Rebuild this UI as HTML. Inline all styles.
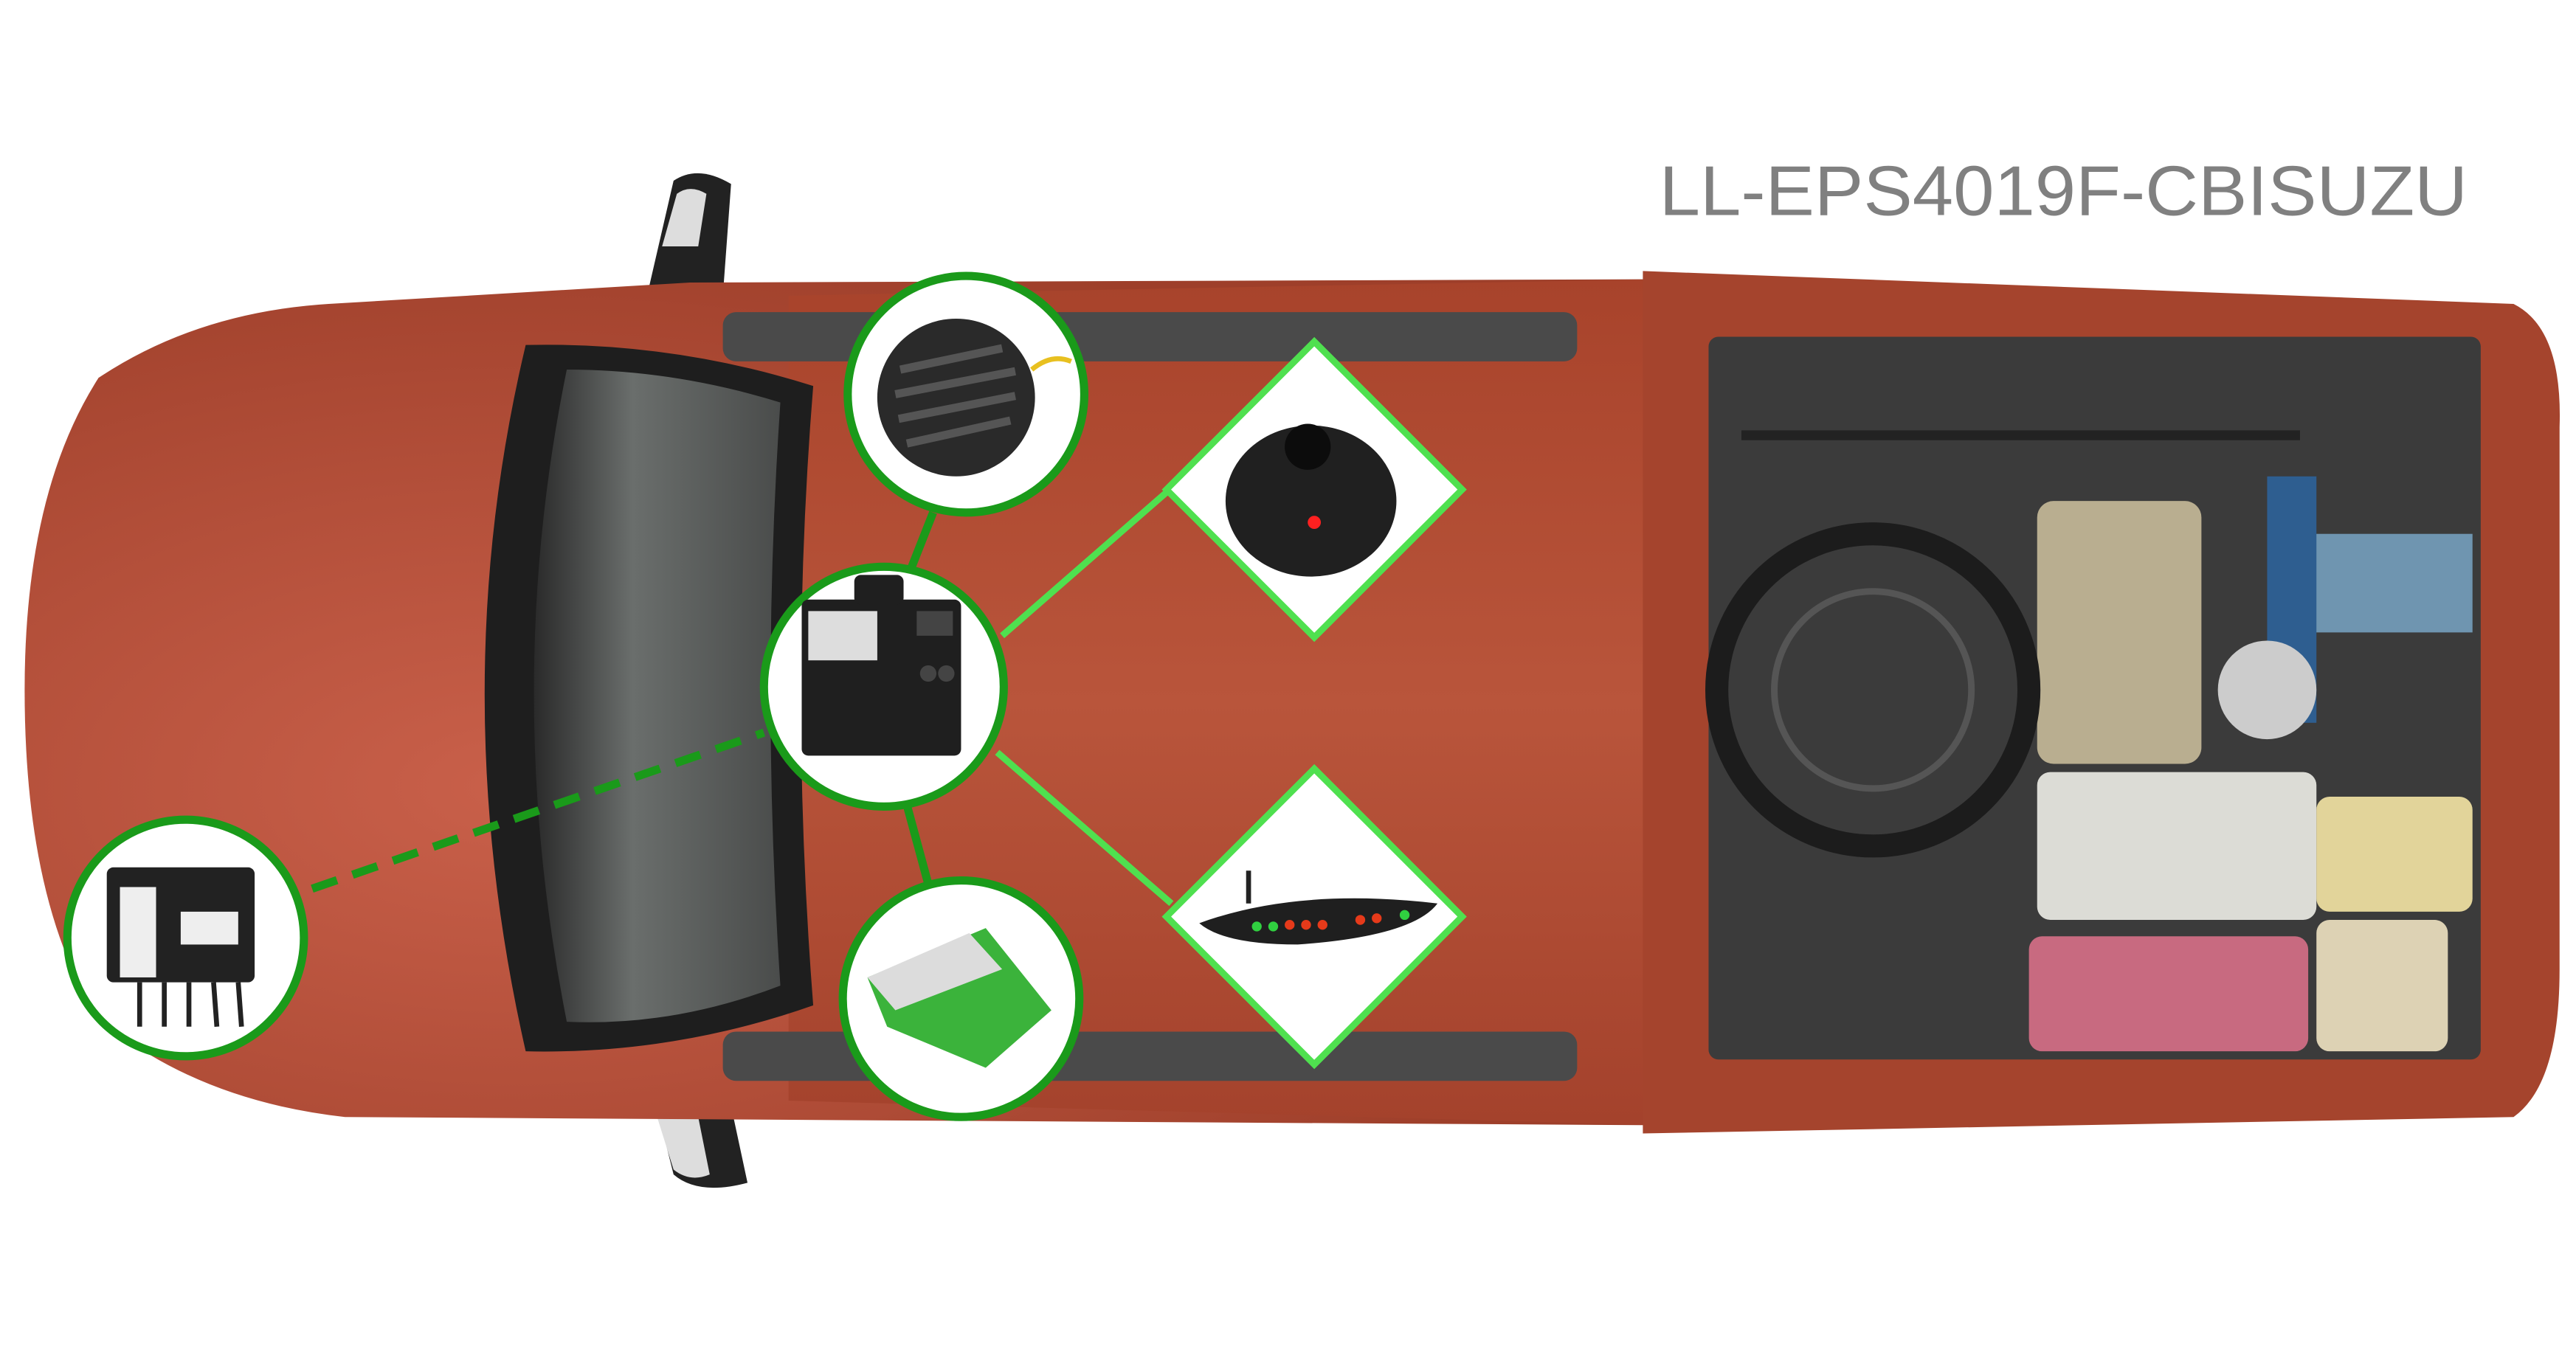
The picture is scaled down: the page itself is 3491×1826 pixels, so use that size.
<!DOCTYPE html>
<html><head><meta charset="utf-8"><style>html,body{margin:0;padding:0;background:#fff}svg{display:block}</style></head>
<body>
<svg width="3491" height="1826" viewBox="0 0 1568 820" preserveAspectRatio="none" xmlns="http://www.w3.org/2000/svg">
<defs>
<linearGradient id="body" x1="0" y1="0" x2="0" y2="1">
<stop offset="0" stop-color="#a8432b"/><stop offset="0.5" stop-color="#b9553b"/><stop offset="1" stop-color="#a4422c"/>
</linearGradient>
<radialGradient id="hood" cx="0.3" cy="0.6" r="0.7">
<stop offset="0" stop-color="#c9604a"/><stop offset="1" stop-color="#9e3f2a"/>
</radialGradient>
<linearGradient id="glass" x1="0" y1="0" x2="1" y2="0">
<stop offset="0" stop-color="#2a2a2a"/><stop offset="0.4" stop-color="#6a6e6c"/><stop offset="1" stop-color="#4a4c4b"/>
</linearGradient>
</defs>
<rect width="1568" height="820" fill="#fff"/>
<!-- mirrors -->
<path d="M395 175 L410 110 Q425 100 445 112 L440 180 Z" fill="#222"/>
<path d="M403 150 L412 118 Q420 112 430 118 L425 150Z" fill="#ddd"/>
<path d="M395 655 L410 715 Q425 728 455 720 L440 650 Z" fill="#222"/>
<path d="M400 680 L410 712 Q420 720 432 715 L425 680Z" fill="#ddd"/>
<!-- cab body -->
<path d="M200 185 Q120 190 60 230 Q15 300 15 420 Q15 550 60 620 Q120 670 210 680 L1010 685 L1010 170 L420 172 Z" fill="url(#hood)"/>
<path d="M480 180 L1010 170 L1010 685 L480 670 Z" fill="url(#body)"/>
<!-- bed -->
<path d="M1000 165 L1530 185 Q1560 200 1558 260 L1558 590 Q1558 660 1530 680 L1000 690 Z" fill="#a5442d"/>
<rect x="1040" y="205" width="470" height="440" rx="6" fill="#3b3b3b"/>
<rect x="1240" y="305" width="100" height="160" rx="10" fill="#b9ae90"/>
<rect x="1240" y="470" width="170" height="90" rx="8" fill="#dcdcd6"/>
<rect x="1235" y="570" width="170" height="70" rx="8" fill="#c86a80"/>
<rect x="1410" y="485" width="95" height="70" rx="8" fill="#e2d49a"/>
<rect x="1410" y="560" width="80" height="80" rx="8" fill="#ddd2b4"/>
<rect x="1405" y="325" width="100" height="60" fill="#6f95b0"/>
<rect x="1380" y="290" width="30" height="150" fill="#2e5e90"/>
<circle cx="1140" cy="420" r="95" fill="none" stroke="#1c1c1c" stroke-width="14"/>
<circle cx="1140" cy="420" r="60" fill="none" stroke="#555" stroke-width="4"/>
<circle cx="1380" cy="420" r="30" fill="#ccc"/>
<path d="M1060 265 L1400 265" stroke="#222" stroke-width="6"/>
<!-- side rails -->
<rect x="440" y="190" width="520" height="30" rx="8" fill="#4a4a4a"/>
<rect x="440" y="628" width="520" height="30" rx="8" fill="#4a4a4a"/>
<!-- windshield -->
<path d="M320 210 Q410 208 495 235 Q480 420 495 612 Q410 642 320 640 Q270 420 320 210 Z" fill="#1e1e1e"/>
<path d="M345 225 Q410 225 475 245 Q463 420 475 600 Q410 625 345 622 Q305 420 345 225 Z" fill="url(#glass)"/>
<!-- connectors -->
<g stroke-linecap="butt">
<line x1="568" y1="312" x2="555" y2="345" stroke="#1a9a1a" stroke-width="5"/>
<line x1="552" y1="490" x2="565" y2="538" stroke="#1a9a1a" stroke-width="5"/>
<line x1="610" y1="387" x2="712" y2="298" stroke="#4fe04f" stroke-width="4"/>
<line x1="607" y1="458" x2="713" y2="550" stroke="#4fe04f" stroke-width="4"/>
<line x1="190" y1="541" x2="465" y2="446" stroke="#1a9a1a" stroke-width="5" stroke-dasharray="16,10"/>
</g>
<!-- circles -->
<g fill="#fff" stroke="#1a9a1a" stroke-width="5">
<circle cx="588" cy="240" r="72"/>
<circle cx="538" cy="418" r="73"/>
<circle cx="585" cy="608" r="72"/>
<circle cx="113" cy="571" r="72"/>
</g>
<!-- diamonds -->
<g fill="#fff" stroke="#4fe04f" stroke-width="4">
<polygon points="800,208 890,298 800,388 710,298"/>
<polygon points="800,468 890,558 800,648 710,558"/>
</g>
<!-- icons -->
<circle cx="582" cy="242" r="48" fill="#2a2a2a"/>
<g stroke="#555" stroke-width="5"><line x1="548" y1="225" x2="610" y2="212"/><line x1="545" y1="240" x2="618" y2="226"/><line x1="547" y1="255" x2="618" y2="241"/><line x1="552" y1="270" x2="615" y2="256"/></g>
<path d="M628 225 Q640 215 652 220" stroke="#e8c020" stroke-width="3" fill="none"/>
<rect x="488" y="365" width="97" height="95" rx="4" fill="#1f1f1f"/>
<rect x="520" y="350" width="30" height="18" rx="4" fill="#1f1f1f"/>
<rect x="492" y="372" width="42" height="30" fill="#ddd"/>
<rect x="558" y="372" width="22" height="15" fill="#444"/>
<circle cx="565" cy="410" r="5" fill="#444"/><circle cx="576" cy="410" r="5" fill="#444"/>
<path d="M528 595 L600 565 L640 615 L600 650 L540 625 Z" fill="#3bb33b"/>
<path d="M528 595 L590 568 L610 590 L545 615 Z" fill="#dcdcdc"/>
<rect x="65" y="528" width="90" height="70" rx="4" fill="#222"/>
<rect x="73" y="540" width="22" height="55" fill="#eee"/>
<rect x="110" y="555" width="35" height="20" fill="#eee"/>
<g stroke="#222" stroke-width="3"><line x1="85" y1="598" x2="85" y2="625"/><line x1="100" y1="598" x2="100" y2="625"/><line x1="115" y1="598" x2="115" y2="625"/><line x1="130" y1="598" x2="132" y2="625"/><line x1="145" y1="598" x2="147" y2="625"/></g>
<ellipse cx="798" cy="305" rx="52" ry="46" fill="#202020"/>
<circle cx="796" cy="272" r="14" fill="#0c0c0c"/>
<circle cx="800" cy="318" r="4" fill="#ff2020"/>
<path d="M730 562 Q790 540 875 550 Q860 570 790 575 Q745 575 730 562Z" fill="#1f1f1f"/>
<g fill="#e63a1a"><circle cx="785" cy="563" r="3"/><circle cx="795" cy="563" r="3"/><circle cx="805" cy="563" r="3"/><circle cx="828" cy="560" r="3"/><circle cx="838" cy="559" r="3"/></g>
<g fill="#30d040"><circle cx="765" cy="564" r="3"/><circle cx="775" cy="564" r="3"/><circle cx="855" cy="557" r="3"/></g>
<line x1="760" y1="550" x2="760" y2="530" stroke="#222" stroke-width="3"/>
<!-- title -->
<text x="1010" y="131" font-family="Liberation Sans, sans-serif" font-size="43" fill="#808080" textLength="492" lengthAdjust="spacingAndGlyphs">LL-EPS4019F-CBISUZU</text>
</svg>
</body></html>
